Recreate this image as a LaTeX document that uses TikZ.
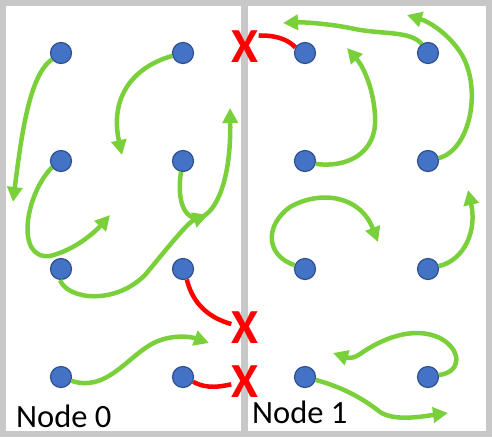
\documentclass[tikz,border=0pt]{standalone}
\usepackage{fontspec}
\setmainfont{Carlito}
\usetikzlibrary{arrows.meta}
\definecolor{dotblue}{RGB}{68,114,196}
\definecolor{dotedge}{RGB}{47,82,143}
\definecolor{linkgreen}{RGB}{122,208,58}
\definecolor{framegray}{RGB}{200,200,200}

\begin{document}
\begin{tikzpicture}[x=1pt,y=-1pt,>={Triangle[length=15pt,width=15pt]},
    dot/.style={circle, fill=dotblue, draw=dotedge, line width=1.2pt, minimum size=21pt, inner sep=0pt},
    link/.style={->, draw=linkgreen, line width=4.5pt},
    cut/.style={draw=red, line width=4.5pt},
    xmark/.style={text=red, font=\fontsize{49}{49}\selectfont\bfseries, inner sep=0pt},
    title/.style={font=\fontsize{32.5}{34}\selectfont, inner sep=0pt, anchor=base west}]
    \useasboundingbox (0,0) rectangle (492,437);

    % Frames
    \draw[framegray, line width=6.5pt] (3.2,3.2) rectangle (244.5,433.8);
    \draw[framegray, line width=6.5pt] (244.5,3.2) rectangle (488.8,433.8);

    % Dots
    \foreach \r/\y in {1/53,2/161,3/269,4/377} {
        \foreach \c/\x in {1/61,2/183,3/305,4/428} {
            \node[dot] (n\r\c) at (\x,\y) {};
        }
    }

    % Labels
    \node[title] (t0) at (16,427) {Node 0};
    \node[title] (t1) at (252,423) {Node 1};
    \node[xmark] (x1) at (245,47) {X};
    \node[xmark] (x2) at (245,328) {X};
    \node[xmark] (x3) at (245,382) {X};

    % Free ends
    \coordinate (a1) at (13,202);
    \coordinate (a2) at (122,155);
    \coordinate (a3) at (230,108);
    \coordinate (a4) at (110,215);
    \coordinate (a5) at (208,215);
    \coordinate (a6) at (209,343);
    \coordinate (b1) at (283,23);
    \coordinate (b2) at (407,15);
    \coordinate (b3) at (347,48);
    \coordinate (b4) at (378,242);
    \coordinate (b5) at (468,190);
    \coordinate (b6) at (333,353);
    \coordinate (b7) at (448,413);

    % Moves in node 0
    \draw[link] (n11.215) .. controls (30,75) and (22,130) .. (a1);
    \draw[link] (n12.195) .. controls (130,68) and (110,100) .. (a2);
    \draw[link] (n22.260) .. controls (170,240) and (232,240) .. (a3);
    \draw[link] (n21.215) .. controls (25,195) and (15,260) .. (50,256)
        .. controls (75,250) and (95,232) .. (a4);
    \draw[link] (n31.265) .. controls (68,300) and (115,305) .. (145,275)
        .. controls (170,245) and (188,222) .. (a5);
    \draw[link] (n41.-20) .. controls (105,392) and (125,360) .. (150,345)
        .. controls (170,333) and (192,337) .. (a6);

    % Moves in node 1
    \draw[link] (n14.125) .. controls (410,30) and (380,35) .. (350,28)
        .. controls (330,24) and (305,22) .. (b1);
    \draw[link] (n24.15) .. controls (470,150) and (482,90) .. (462,55)
        .. controls (450,35) and (430,22) .. (b2);
    \draw[link] (n23.-15) .. controls (345,168) and (378,155) .. (375,115)
        .. controls (373,85) and (362,65) .. (b3);
    \draw[link] (n33.160) .. controls (265,255) and (265,225) .. (290,207)
        .. controls (320,190) and (360,195) .. (b4);
    \draw[link] (n34.15) .. controls (465,260) and (477,230) .. (b5);
    \draw[link] (n44.10) .. controls (462,372) and (462,350) .. (440,338)
        .. controls (412,325) and (380,340) .. (360,354)
        .. controls (352,360) and (345,357) .. (b6);
    \draw[link] (n43.-15) .. controls (345,388) and (365,400) .. (380,412)
        .. controls (395,422) and (425,416) .. (b7);

    % Blocked moves
    \draw[cut] (n32.-70) .. controls (193,305) and (210,318) .. (x2);
    \draw[cut] (n42.-25) .. controls (208,390) and (222,386) .. (x3);
    \draw[cut] (n13.150) .. controls (282,33) and (258,36) .. (x1);
\end{tikzpicture}
\end{document}
